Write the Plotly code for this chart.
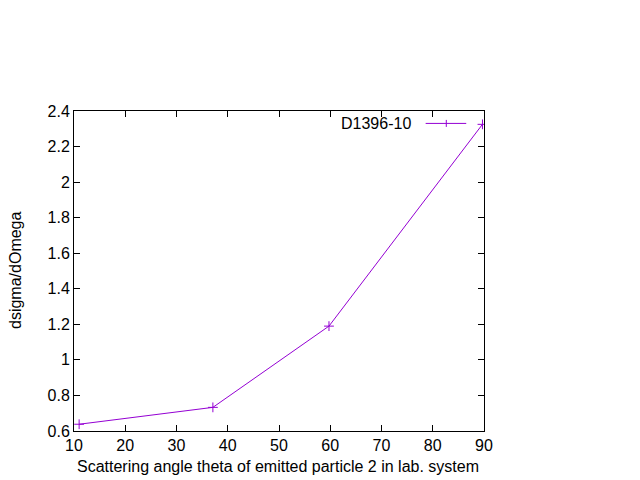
import plotly.graph_objects as go

theta = [11.0, 37.1, 59.75, 89.7]
dsigma = [0.638, 0.733, 1.19, 2.325]
series_name = "D1396-10"
x_title = "Scattering angle theta of emitted particle 2 in lab. system"
y_title = "dsigma/dOmega"
x_ticks = [10, 20, 30, 40, 50, 60, 70, 80, 90]
y_ticks = [0.6, 0.8, 1.0, 1.2, 1.4, 1.6, 1.8, 2.0, 2.2, 2.4]
y_tick_text = ["0.6", "0.8", "1", "1.2", "1.4", "1.6", "1.8", "2", "2.2", "2.4"]

color = "#9400D3"
OFF = 8  # page body margin
L, R, T, B = 73.5 - OFF, 484.5 - OFF, 111.3 - OFF, 431.0 - OFF
W, H = 640 - OFF, 480 - OFF
FS = 16

fig = go.Figure()
fig.add_trace(go.Scatter(
    x=theta, y=dsigma, mode="lines+markers", name=series_name,
    line=dict(color=color, width=1),
    marker=dict(symbol="cross-thin-open", size=7, line=dict(color=color, width=1)),
    showlegend=False,
))

def px(p):
    return (p - OFF - L) / (R - L)

def py(p):
    return (B - (p - OFF)) / (B - T)

ly = 123.7
fig.add_shape(type="line", xref="paper", yref="paper", x0=px(426), x1=px(466.7), y0=py(ly), y1=py(ly),
              line=dict(color=color, width=1))
fig.add_shape(type="line", xref="paper", yref="paper", x0=px(446.7), x1=px(446.7), y0=py(ly - 3.5), y1=py(ly + 3.5),
              line=dict(color=color, width=1))
fig.add_annotation(xref="paper", yref="paper", x=px(413), y=py(ly), text=series_name, showarrow=False,
                   xanchor="right", yanchor="middle", font=dict(size=FS, color="black"))
fig.add_annotation(xref="paper", yref="paper", x=px(15.5), y=py(271), text=y_title, showarrow=False,
                   textangle=-90, xanchor="center", yanchor="middle", font=dict(size=FS, color="black"))
fig.add_annotation(xref="paper", yref="paper", x=px(277.5), y=py(466), text=x_title, showarrow=False,
                   xanchor="center", yanchor="middle", font=dict(size=FS, color="black"))

axis_common = dict(showline=True, linecolor="black", linewidth=1, mirror="ticks", ticks="inside",
                   ticklen=6, tickcolor="black", showgrid=False, zeroline=False, automargin=False,
                   tickfont=dict(size=FS, color="black"))
fig.update_xaxes(range=[10, 90], tickvals=x_ticks, **axis_common)
fig.update_yaxes(range=[0.6, 2.4], tickvals=y_ticks, ticktext=y_tick_text, **axis_common)
fig.update_layout(
    width=W, height=H, plot_bgcolor="white", paper_bgcolor="white",
    margin=dict(l=L, r=W - R, t=T, b=H - B, pad=0),
    font=dict(family="Liberation Sans, Arial, sans-serif", size=FS, color="black"),
)
fig.write_html("out.html")
